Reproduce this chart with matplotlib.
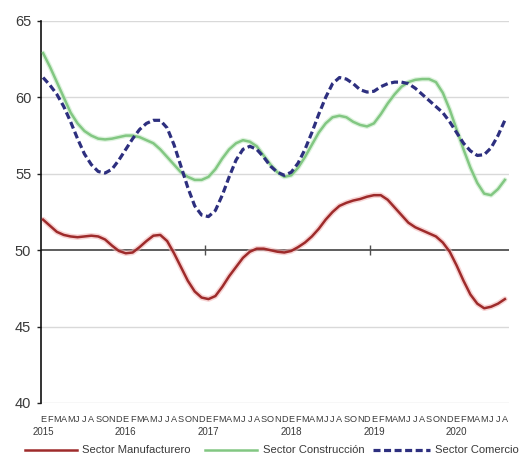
import numpy as np
import matplotlib
matplotlib.use("Agg")
import matplotlib.pyplot as plt
from matplotlib import transforms
from matplotlib.lines import Line2D

# --- Indices de confianza empresarial por sector (mensual, ene-2015 a ago-2020) ---
years = ["2015", "2016", "2017", "2018", "2019", "2020"]
month_letters = ["E", "F", "M", "A", "M", "J", "J", "A", "S", "O", "N", "D"]
series_names = ["Sector Manufacturero", "Sector Construcción", "Sector Comercio"]

manufacturero = [
    52.0, 51.6, 51.2, 51.0, 50.9, 50.85, 50.9, 50.95, 50.9, 50.7, 50.3, 49.95,
    49.8, 49.85, 50.2, 50.6, 50.95, 51.0, 50.6, 49.8, 48.9, 48.0, 47.3, 46.9,
    46.8, 47.0, 47.6, 48.3, 48.9, 49.5, 49.9, 50.1, 50.1, 50.0, 49.9, 49.85,
    49.95, 50.2, 50.5, 50.9, 51.4, 52.0, 52.5, 52.9, 53.1, 53.25, 53.35, 53.5,
    53.6, 53.6, 53.3, 52.8, 52.3, 51.8, 51.5, 51.3, 51.1, 50.9, 50.5, 49.9,
    49.0, 48.0, 47.1, 46.5, 46.2, 46.3, 46.5, 46.8,
]
construccion = [
    62.9, 62.0, 61.0, 60.0, 59.0, 58.3, 57.8, 57.5, 57.3, 57.25, 57.3, 57.4,
    57.5, 57.5, 57.4, 57.2, 57.0, 56.6, 56.1, 55.6, 55.1, 54.8, 54.6, 54.6,
    54.8, 55.3, 56.0, 56.6, 57.0, 57.2, 57.1, 56.8, 56.2, 55.6, 55.1, 54.8,
    54.9, 55.4, 56.1, 56.9, 57.7, 58.3, 58.7, 58.8, 58.7, 58.4, 58.2, 58.1,
    58.3, 58.9, 59.6, 60.2, 60.7, 61.0, 61.15, 61.2, 61.2, 61.0, 60.3, 59.2,
    57.9, 56.6, 55.4, 54.4, 53.7, 53.6, 54.0, 54.6,
]
comercio = [
    61.3, 60.8, 60.2, 59.4, 58.4, 57.3, 56.3, 55.6, 55.15, 55.05, 55.3, 55.9,
    56.6, 57.3, 57.9, 58.3, 58.5, 58.5, 58.0, 56.9, 55.5, 54.1, 52.9, 52.3,
    52.2, 52.6, 53.6, 54.8, 55.9, 56.6, 56.8, 56.6, 56.1, 55.5, 55.1, 54.9,
    55.1, 55.7, 56.6, 57.7, 58.9, 60.0, 60.9, 61.3, 61.2, 60.9, 60.5, 60.35,
    60.4, 60.7, 60.9, 61.0, 61.0, 60.9, 60.6, 60.2, 59.8, 59.4, 59.0, 58.4,
    57.7, 57.0, 56.5, 56.2, 56.25, 56.7, 57.5, 58.5,
]

n = len(manufacturero)
x = np.arange(n)
labels = [month_letters[i % 12] for i in range(n)]

plt.rcParams['font.family'] = ['Liberation Sans', 'DejaVu Sans']
text_color = '#3a3a3a'
W, H = 521, 466

fig = plt.figure(figsize=(W / 100, H / 100), dpi=100)
ax = fig.add_axes([41 / W, 1 - 403 / H, 468 / W, 382 / H])

# gridlines
for yv in [40, 45, 55, 60, 65]:
    ax.axhline(yv, color='#d9d9d9', lw=1.0, zorder=0)
# category axis crossing at 50
ax.axhline(50, color='#505050', lw=1.3, zorder=1)
ax.plot([23.5, 47.5], [50, 50], ls='none', marker='|', ms=7, mew=1.0, color='#505050', zorder=1)

# series (soft halo under the solid lines)
red, green, blue = '#9e2b2b', '#82c782', '#2d2f7f'
ax.plot(x, manufacturero, color='#f2b8b8', lw=4.0, alpha=0.6, zorder=2, solid_capstyle='round')
ax.plot(x, manufacturero, color=red, lw=1.8, zorder=3)
ax.plot(x, construccion, color='#c8ebc8', lw=3.6, alpha=0.6, zorder=2, solid_capstyle='round')
ax.plot(x, construccion, color=green, lw=1.8, zorder=3)
ax.plot(x, comercio, color=blue, lw=2.3, ls=(0, (2.2, 1.1)), zorder=4)

ax.set_xlim(-0.3, 67.6)
ax.set_ylim(40, 65)
ax.set_yticks([40, 45, 50, 55, 60, 65])
ax.tick_params(axis='y', length=3, width=1, color='#222222', labelsize=10.5,
               labelcolor=text_color, pad=4)

ax.set_xticks(x)
ax.set_xticklabels(labels, fontsize=6.6, color=text_color)
ax.tick_params(axis='x', length=0, pad=9)

# year labels below the January of each year
trans = transforms.blended_transform_factory(ax.transData, fig.transFigure)
for k, yr in enumerate(years):
    ax.text(12 * k, 1 - 432 / H, yr, transform=trans, ha='center', va='center',
            fontsize=7, color=text_color)

for side in ['top', 'right', 'bottom']:
    ax.spines[side].set_visible(False)
ax.spines['left'].set_color('#111111')
ax.spines['left'].set_linewidth(1.2)

# legend row laid out along the bottom
legend_y = 1 - 450 / H
entries = [
    (series_names[0], red, '-', (25, 77), 82),
    (series_names[1], green, '-', (205, 257), 263),
    (series_names[2], blue, (0, (2.2, 1.1)), (373, 430), 435),
]
for name, col, ls, (x0, x1), tx in entries:
    lw = 2.3 if name == series_names[2] else 1.8
    fig.add_artist(Line2D([x0 / W, x1 / W], [legend_y, legend_y], color=col, lw=lw, ls=ls,
                          transform=fig.transFigure))
    fig.text(tx / W, legend_y, name, ha='left', va='center', fontsize=8.1, color=text_color)

fig.savefig('out.png', dpi=100)
